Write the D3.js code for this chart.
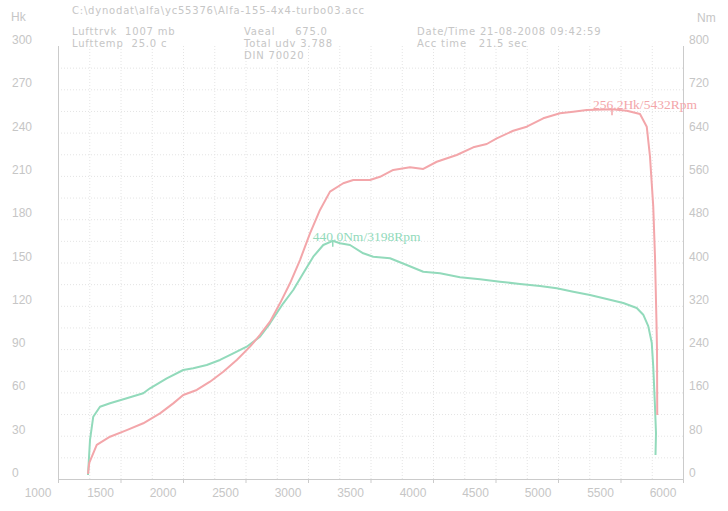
<!DOCTYPE html>
<html><head><meta charset="utf-8">
<script src="https://cdn.jsdelivr.net/npm/d3@7"></script>
<style>
html,body{margin:0;padding:0;background:#fff;}
svg{display:block;}
text{white-space:pre;}
</style></head>
<body>
<svg id="c" width="728" height="511"></svg>
<script>
// ---- data ----
const hkRpm = [1240,1250,1310,1416,1550,1682,1816,1922,2002,2110,2216,2322,2430,2536,2616,2696,2776,2856,2936,3016,3096,3176,3282,3362,3496,3576,3682,3816,3922,4030,4190,4322,4430,4510,4642,4750,4882,5016,5122,5230,5432,5550,5656,5710,5736,5762,5776,5788,5792,5794];
const hkVal = [3.5,11.1,23.6,29.3,33.9,38.6,45.5,52.4,58.2,61.7,67.4,74.3,82.4,91.7,99.8,109.0,121.7,135.6,151.7,170.2,186.4,199.1,204.9,207.2,207.2,209.4,214.1,216.0,214.8,219.8,224.5,229.8,232.1,236.0,241.3,244.1,249.9,253.4,254.5,255.7,256.2,255.2,252.9,244.1,223.3,188.7,154.0,107.9,89.4,44.3];
const nmRpm = [1240,1256,1282,1336,1416,1550,1682,1736,1870,2002,2082,2190,2296,2402,2510,2616,2696,2802,2882,2962,3042,3122,3198,3256,3336,3442,3522,3656,3790,3922,4056,4216,4376,4536,4696,4856,4990,5122,5256,5390,5522,5630,5682,5722,5750,5762,5776,5784,5780];
const nmVal = [7.4,72.1,115.1,133.6,139.9,149.1,158.3,167.6,186.1,201.4,204.5,210.6,219.9,232.2,244.4,262.9,287.7,324.6,349.2,380.0,410.7,432.3,440.0,435.5,432.3,417.0,410.7,407.8,395.4,383.0,380.0,372.7,369.0,364.5,360.3,356.6,352.3,346.1,340.0,332.6,325.2,315.9,303.6,282.4,251.8,207.5,133.6,84.4,44.3];
const xTicks = [1000,1500,2000,2500,3000,3500,4000,4500,5000,5500,6000];
const hkTicks = [0,30,60,90,120,150,180,210,240,270,300];
const nmTicks = [0,80,160,240,320,400,480,560,640,720,800];
const hkPeak = {rpm:5432, val:256.2, label:"256.2Hk/5432Rpm"};
const nmPeak = {rpm:3198, val:440.0, label:"440.0Nm/3198Rpm"};
const headerLines = [
  {t:"C:\\dynodat\\alfa\\yc55376\\Alfa-155-4x4-turbo03.acc", x:72, y:14},
  {t:"Lufttrvk  1007 mb", x:72, y:35},
  {t:"Lufttemp  25.0 c", x:72, y:47},
  {t:"Vaeal     675.0", x:244, y:35},
  {t:"Total udv 3.788", x:244, y:47},
  {t:"DIN 70020", x:244, y:59},
  {t:"Date/Time 21-08-2008 09:42:59", x:417, y:35},
  {t:"Acc time   21.5 sec", x:417, y:47}
];

// ---- drawing ----
const svg = d3.select("#c");
const X0=58, X1=683, Y0=479, Y1=46;
const x = d3.scaleLinear().domain([1000,6000]).range([X0,X1]);
const yL = d3.scaleLinear().domain([0,300]).range([Y0,Y1]);
const yR = d3.scaleLinear().domain([0,800]).range([Y0,Y1]);

const gridC = "#e4e4e4", axisC = "#cbcbcb", textC = "#c6c6c6";
const pink = "#f3a6aa", green = "#92dabb";
const font = "'Liberation Sans', Arial, sans-serif";
const hfont = "'DejaVu Sans', Verdana, sans-serif";

// grid
const g = svg.append("g");
g.selectAll("line.h").data(d3.range(15,300,15)).enter().append("line")
  .attr("x1",X0).attr("x2",X1).attr("y1",d=>yL(d)+0.5).attr("y2",d=>yL(d)+0.5)
  .attr("stroke",gridC).attr("stroke-dasharray","1,2");
g.selectAll("line.v").data(d3.range(1250,6000,250)).enter().append("line")
  .attr("y1",Y1).attr("y2",Y0).attr("x1",d=>x(d)+0.5).attr("x2",d=>x(d)+0.5)
  .attr("stroke",gridC).attr("stroke-dasharray","1,2");

// axes
svg.append("line").attr("x1",X0+0.5).attr("x2",X0+0.5).attr("y1",Y1).attr("y2",Y0).attr("stroke",axisC);
svg.append("line").attr("x1",X1+0.5).attr("x2",X1+0.5).attr("y1",Y1).attr("y2",Y0).attr("stroke",axisC);
svg.append("line").attr("x1",X0).attr("x2",X1).attr("y1",Y0+0.5).attr("y2",Y0+0.5).attr("stroke",axisC);
svg.selectAll("line.xt").data(xTicks).enter().append("line")
  .attr("x1",d=>x(d)+0.5).attr("x2",d=>x(d)+0.5).attr("y1",Y0).attr("y2",Y0+4).attr("stroke",axisC);

svg.selectAll("text.xl").data(xTicks).enter().append("text")
  .attr("x",d=>x(d)-20).attr("y",497).attr("text-anchor","middle")
  .attr("font-family",font).attr("font-size",12).attr("fill",textC).text(d=>d);
svg.selectAll("text.yl").data(hkTicks).enter().append("text")
  .attr("x",12).attr("y",d=>yL(d)-2)
  .attr("font-family",font).attr("font-size",12).attr("fill",textC).text(d=>d);
svg.selectAll("text.yr").data(nmTicks).enter().append("text")
  .attr("x",689).attr("y",d=>yR(d)-2)
  .attr("font-family",font).attr("font-size",12).attr("fill",textC).text(d=>d);
svg.append("text").attr("x",11).attr("y",21).attr("font-family",font).attr("font-size",12).attr("fill",textC).text("Hk");
svg.append("text").attr("x",697).attr("y",22).attr("font-family",font).attr("font-size",12).attr("fill",textC).text("Nm");

svg.selectAll("text.hd").data(headerLines).enter().append("text")
  .attr("x",d=>d.x).attr("y",d=>d.y)
  .attr("font-family",hfont).attr("font-size",10).attr("letter-spacing",0.8)
  .attr("fill",textC).text(d=>d.t);

// curves
const hkData = hkRpm.map((r,i)=>[r,hkVal[i]]);
const nmData = nmRpm.map((r,i)=>[r,nmVal[i]]);
svg.append("path").datum(nmData)
  .attr("d",d3.line().x(d=>x(d[0])).y(d=>yR(d[1])).curve(d3.curveLinear))
  .attr("fill","none").attr("stroke",green).attr("stroke-width",2).attr("stroke-linejoin","round");
svg.append("path").datum(hkData)
  .attr("d",d3.line().x(d=>x(d[0])).y(d=>yL(d[1])).curve(d3.curveLinear))
  .attr("fill","none").attr("stroke",pink).attr("stroke-width",2).attr("stroke-linejoin","round");

// peak markers
const serif = "'Liberation Serif', 'Times New Roman', serif";
svg.append("line").attr("x1",x(hkPeak.rpm)).attr("x2",x(hkPeak.rpm))
  .attr("y1",yL(hkPeak.val)).attr("y2",yL(hkPeak.val)+6).attr("stroke",pink).attr("stroke-width",1.5);
svg.append("text").attr("x",x(hkPeak.rpm)-19).attr("y",yL(hkPeak.val)).attr("font-family",serif)
  .attr("font-size",13.5).attr("fill",pink).text(hkPeak.label);
svg.append("line").attr("x1",x(nmPeak.rpm)).attr("x2",x(nmPeak.rpm))
  .attr("y1",yR(nmPeak.val)).attr("y2",yR(nmPeak.val)+6).attr("stroke",green).attr("stroke-width",1.5);
svg.append("text").attr("x",x(nmPeak.rpm)-20).attr("y",yR(nmPeak.val)).attr("font-family",serif)
  .attr("font-size",13.5).attr("fill",green).text(nmPeak.label);
</script>
</body></html>
